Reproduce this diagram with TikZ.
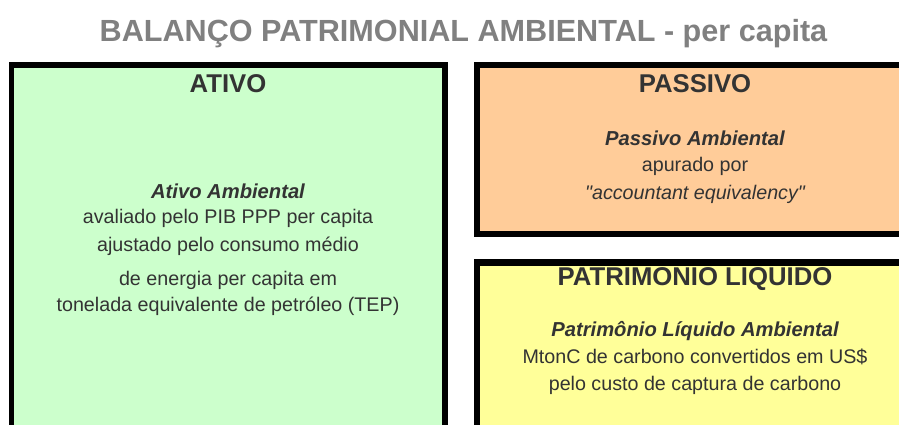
\documentclass[tikz,border=0pt]{standalone}
\usepackage{fontspec}
\setmainfont{Liberation Sans}
\newfontfamily\plainq{Liberation Sans}
\definecolor{txt}{HTML}{333333}
\definecolor{ttl}{HTML}{808080}
\definecolor{verde}{HTML}{CCFFCC}
\definecolor{laranja}{HTML}{FFCC99}
\definecolor{amarelo}{HTML}{FFFF99}
\begin{document}
\begin{tikzpicture}[x=1pt,y=-1pt,
  titlestyle/.style={text=ttl, font=\fontsize{30.6}{36}\selectfont\bfseries, anchor=base, inner sep=0pt},
  headstyle/.style={text=txt, font=\fontsize{25.7}{30}\selectfont\bfseries, anchor=base, inner sep=0pt},
  subhead/.style={text=txt, font=\fontsize{20.2}{24}\selectfont\bfseries\itshape, anchor=base, inner sep=0pt},
  body/.style={text=txt, font=\fontsize{19.7}{24}\selectfont, anchor=base, inner sep=0pt},
  bodyit/.style={body, font=\plainq\fontsize{19.7}{24}\selectfont\itshape},
]
\useasboundingbox (0,0) rectangle (899,424);
% boxes
\fill[black] (9,62) rectangle (448,430);
\fill[verde] (13.5,68) rectangle (442,430);
\fill[black] (474,62) rectangle (905,237);
\fill[laranja] (480,68) rectangle (905,231);
\fill[black] (474,259) rectangle (905,430);
\fill[amarelo] (480,265.5) rectangle (905,430);
% title
\node[titlestyle] (title) at (463.5,41) {BALANÇO PATRIMONIAL AMBIENTAL - per capita};
% ativo
\node[headstyle] (hativo) at (228,92.5) {ATIVO};
\node[subhead] (sativo) at (228,198) {Ativo Ambiental};
\node[body] (a1) at (228,223.5) {avaliado pelo PIB PPP per capita};
\node[body] (a2) at (228,251.5) {ajustado pelo consumo médio};
\node[body] (a3) at (228,285) {de energia per capita em};
\node[body] (a4) at (228,311.5) {tonelada equivalente de petróleo (TEP)};
% passivo
\node[headstyle] (hpassivo) at (695,92.5) {PASSIVO};
\node[subhead] (spassivo) at (695,145) {Passivo Ambiental};
\node[body] (p1) at (695,171.7) {apurado por};
\node[bodyit] (p2) at (695,199) {"accountant equivalency"};
% patrimonio
\node[headstyle] (hpl) at (695,285) {PATRIMONIO LIQUIDO};
\node[subhead] (spl) at (695,336) {Patrimônio Líquido Ambiental};
\node[body] (l1) at (695,363.3) {MtonC de carbono convertidos em US\$};
\node[body] (l2) at (695,390) {pelo custo de captura de carbono};
\end{tikzpicture}
\end{document}
